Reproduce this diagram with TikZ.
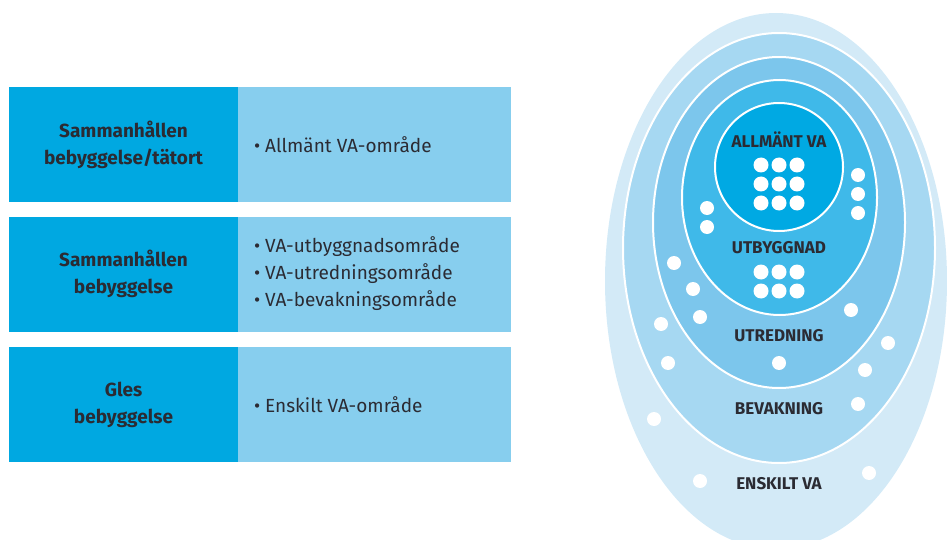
\documentclass[tikz,border=0pt]{standalone}
\usepackage{fontspec}
\setmainfont{Fira Sans}
\usepackage{tikz}
\usetikzlibrary{shapes.geometric}
\definecolor{vablue}{HTML}{00A8E1}
\definecolor{valight}{HTML}{87CEEE}
\definecolor{zoneA}{HTML}{D3EAF7}
\definecolor{zoneB}{HTML}{A6D8F2}
\definecolor{zoneC}{HTML}{7CC6EC}
\definecolor{zoneD}{HTML}{3FB9E9}
\definecolor{zoneE}{HTML}{00A9E3}
\definecolor{ink}{HTML}{2B2B33}

\begin{document}
\begin{tikzpicture}[x=1pt,y=-1pt,
	head/.style={fill=vablue, minimum width=229pt, minimum height=115pt, inner sep=0pt,
		font=\bfseries\fontsize{19}{27}\selectfont, text=ink, align=center},
	cell/.style={fill=valight, minimum width=273pt, minimum height=115pt, inner sep=0pt},
	item/.style={anchor=west, inner sep=0pt, font=\fontsize{19}{27}\selectfont, text=ink, align=left},
	layer/.style={ellipse, draw=white, line width=2pt, inner sep=0pt},
	zone/.style={font=\bfseries\fontsize{17}{20}\selectfont, text=ink}]
	\useasboundingbox (0,0) rectangle (947,540);

	% table
	\node[head] (h1) at (123.5,144.5) {Sammanhållen\\bebyggelse/tätort};
	\node[cell] (c1) at (374.5,144.5) {};
	\node[item] (t1) at ([xshift=16pt]c1.west) {• Allmänt VA-område};

	\node[head] (h2) at (123.5,274) {Sammanhållen\\bebyggelse};
	\node[cell] (c2) at (374.5,274) {};
	\node[item] (t2) at ([xshift=16pt]c2.west) {• VA-utbyggnadsområde\\• VA-utredningsområde\\• VA-bevakningsområde};

	\node[head] (h3) at (123.5,404.5) {Gles\\bebyggelse};
	\node[cell] (c3) at (374.5,404.5) {};
	\node[item] (t3) at ([xshift=16pt]c3.west) {• Enskilt VA-område};

	% zones
	\node[layer, draw=none, fill=zoneA, minimum width=342pt, minimum height=536pt] (enskilt) at (776,281) {};
	\node[layer, fill=zoneB, minimum width=312pt, minimum height=430pt] (bevakning) at (779,248) {};
	\node[layer, fill=zoneC, minimum width=252pt, minimum height=331pt] (utredning) at (779,222.5) {};
	\node[layer, fill=zoneD, minimum width=195pt, minimum height=235pt] (utbyggnad) at (779.5,197.5) {};
	\node[layer, fill=zoneE, minimum width=128pt, minimum height=128pt] (allmant) at (779,167) {};

	\node[zone] (lA) at (779,140) {ALLMÄNT VA};
	\node[zone] (lB) at (779,248) {UTBYGGNAD};
	\node[zone] (lC) at (779,336) {UTREDNING};
	\node[zone] (lD) at (779,409) {BEVAKNING};
	\node[zone] (lE) at (779,484) {ENSKILT VA};

	% dots
	\foreach \x in {761,779,797} {
		\foreach \y in {165,184,203} \fill[white] (\x,\y) circle (7.5pt);
		\foreach \y in {272,291} \fill[white] (\x,\y) circle (7.5pt);
	}
	\foreach \x/\y in {858/175,858/194,858/213,707/208,707/227,
		674/263,693/289,700/317,779/363,851/310,
		661/324,668/363,888/343,865/370,858/404,
		654/419,700/481,869/473}
		\fill[white] (\x,\y) circle (7pt);
\end{tikzpicture}
\end{document}
